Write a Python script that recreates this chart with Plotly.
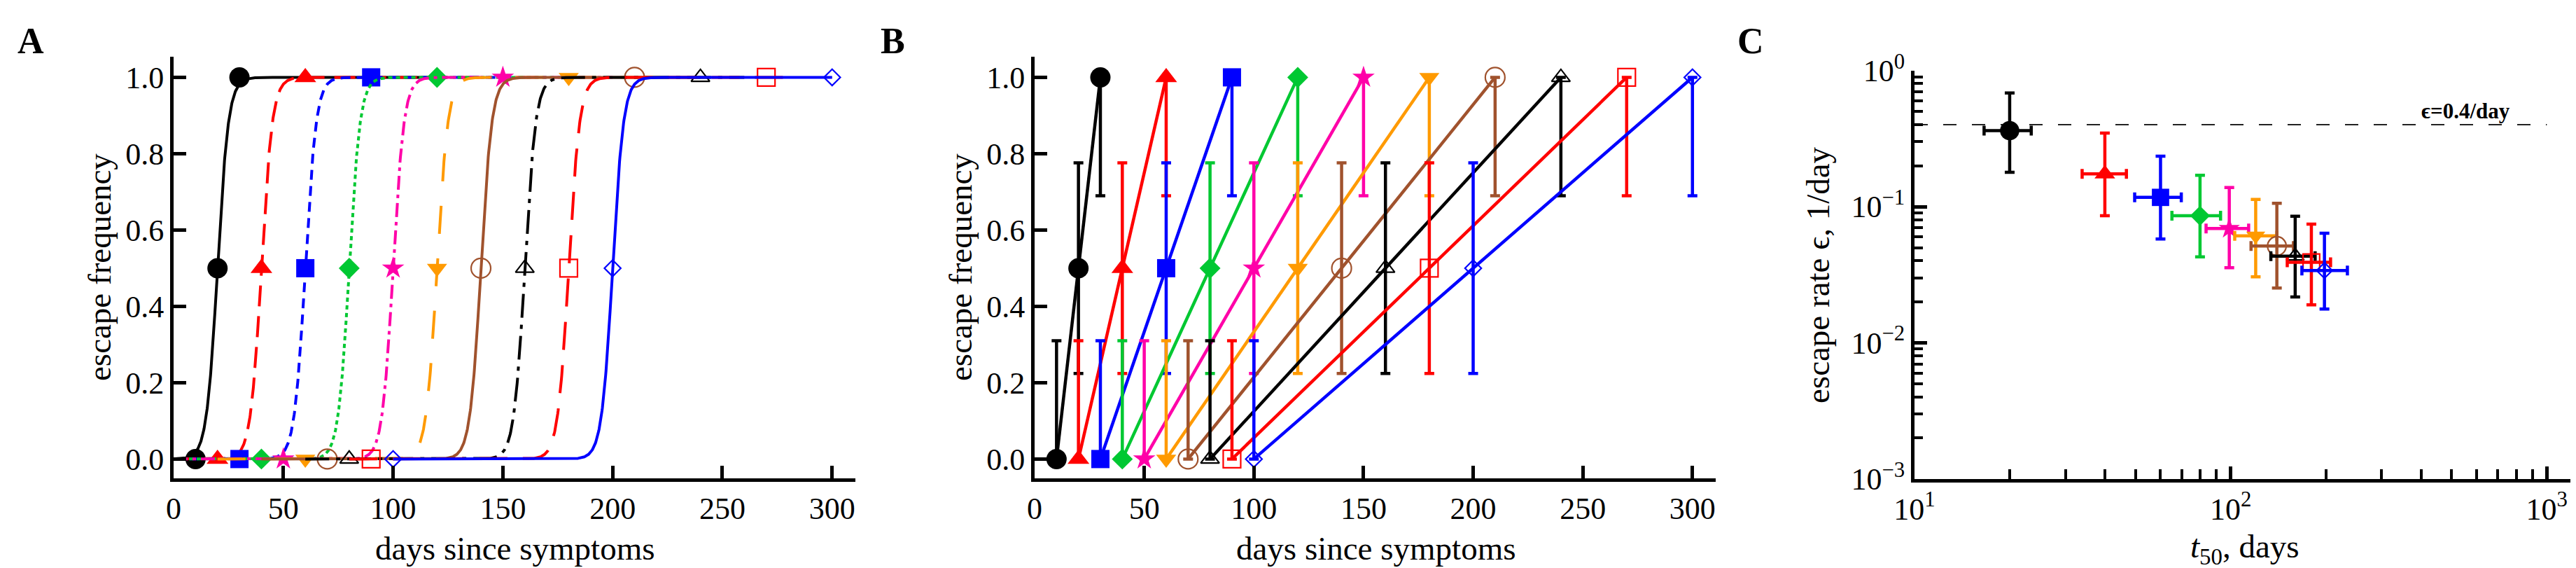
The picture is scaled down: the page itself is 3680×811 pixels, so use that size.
import numpy as np
import plotly.graph_objects as go

FONT = "Liberation Serif"

# ---- data ----
# panels A/B: time points (days since symptoms) of the 0, 0.5 and 1 frequency samples
t_zero = [10, 20, 30, 40, 50, 60, 70, 80, 90, 100]
t_half = [20, 40, 60, 80, 100, 120, 140, 160, 180, 200]
t_one = [30, 60, 90, 120, 150, 180, 210, 240, 270, 300]
freq_levels = [0.0, 0.5, 1.0]
eps_true = 0.4          # escape rate used for the curves in A (and the dashed line in C)
curve_halfwidth = 100   # curves in A are drawn over t50 +/- this many days

# panel B: confidence limits of the sampled frequencies
f_zero_hi = 0.31
f_half_lo = 0.224
f_half_hi = 0.776
f_one_lo = 0.69

# panel C: estimated t50 and escape rate with their intervals
t50_est = [20, 40, 60, 80, 99, 120, 140, 160, 180, 198]
t50_lo = [16.6, 33.9, 49.7, 65.2, 83.6, 103, 116, 134, 151, 168]
t50_hi = [23.4, 46.8, 69.8, 92.9, 114, 140, 158, 185, 207, 234]
eps_est = [0.362, 0.174, 0.117, 0.0857, 0.0691, 0.0611, 0.0514, 0.0433, 0.039, 0.034]
eps_lo = [0.179, 0.0857, 0.0578, 0.0428, 0.0356, 0.0305, 0.0253, 0.0217, 0.019, 0.0177]
eps_hi = [0.683, 0.347, 0.235, 0.170, 0.138, 0.113, 0.106, 0.0851, 0.0744, 0.0638]
eps_line_t = [10, 1000]

# ---- styles ----
colors = ["black", "#ff0000", "#0000ff", "#00c832", "#ff00a8",
          "#ff9a00", "#a0522d", "black", "#ff0000", "#0000ff"]
symbols = ["circle", "triangle-up", "square", "diamond", "star",
           "triangle-down", "circle-open", "triangle-up-open", "square-open", "diamond-open"]
msizes = [29, 27, 26, 23, 24, 25, 28, 23, 25, 18]
dashes = ["solid", "30px,14px", "14px,9px", "6px,5px", "20px,7px,5px,7px",
          "40px,35px", "solid", "34px,10px,6px,10px", "40px,22px", "solid"]

fig = go.Figure()


def marker(i, scale=1.0):
    return dict(symbol=symbols[i], size=msizes[i] * scale, color=colors[i],
                line=dict(color=colors[i], width=2.2 if "open" in symbols[i] else 0))


# ---- panel A: logistic curves with the sample markers ----
for i in range(10):
    lo = max(0, t_half[i] - curve_halfwidth)
    hi = min(300, t_half[i] + curve_halfwidth)
    t = np.linspace(lo, hi, 1201)
    f = 1.0 / (1.0 + np.exp(-eps_true * (t - t_half[i])))
    fig.add_trace(go.Scatter(x=t, y=f, mode="lines", xaxis="x", yaxis="y",
                             line=dict(color=colors[i], width=4, dash=dashes[i])))
    fig.add_trace(go.Scatter(x=[t_zero[i], t_half[i], t_one[i]], y=freq_levels,
                             mode="markers", xaxis="x", yaxis="y", marker=marker(i)))

# ---- panel B: piecewise linear with error bars ----
for i in range(10):
    up = [f_zero_hi - freq_levels[0], f_half_hi - freq_levels[1], 0]
    dn = [0, freq_levels[1] - f_half_lo, freq_levels[2] - f_one_lo]
    fig.add_trace(go.Scatter(
        x=[t_zero[i], t_half[i], t_one[i]], y=freq_levels, mode="lines+markers",
        xaxis="x2", yaxis="y2",
        line=dict(color=colors[i], width=4.5), marker=marker(i),
        error_y=dict(type="data", symmetric=False, array=up, arrayminus=dn,
                     color=colors[i], thickness=4.5, width=7)))

# ---- panel C: estimates on log-log axes ----
fig.add_trace(go.Scatter(x=eps_line_t, y=[eps_true, eps_true], mode="lines",
                         xaxis="x3", yaxis="y3",
                         line=dict(color="#222222", width=2, dash="19px,22px")))
for i in range(10):
    fig.add_trace(go.Scatter(
        x=[t50_est[i]], y=[eps_est[i]], mode="markers", xaxis="x3", yaxis="y3",
        marker=marker(i, 0.95),
        error_x=dict(type="data", symmetric=False, array=[t50_hi[i] - t50_est[i]],
                     arrayminus=[t50_est[i] - t50_lo[i]], color=colors[i],
                     thickness=4.5, width=7),
        error_y=dict(type="data", symmetric=False, array=[eps_hi[i] - eps_est[i]],
                     arrayminus=[eps_est[i] - eps_lo[i]], color=colors[i],
                     thickness=4.5, width=7)))

W, H = 3680, 811
tickfont = dict(family=FONT, size=44, color="black")
axis_common = dict(showline=True, linewidth=5, linecolor="black", ticks="inside",
                   ticklen=18, tickwidth=5, tickcolor="black", showgrid=False,
                   zeroline=False, tickfont=tickfont, mirror=False, automargin=False)

xt_lin = [0, 50, 100, 150, 200, 250, 300]
yt_lin = [0, 0.2, 0.4, 0.6, 0.8, 1.0]

dom_y_lin = [1 - 675 / H, 1 - 73 / H]
layout = dict(
    template="none",
    width=W, height=H, margin=dict(l=0, r=0, t=0, b=0, pad=0),
    paper_bgcolor="white", plot_bgcolor="white", showlegend=False, hovermode=False,
    xaxis=dict(axis_common, domain=[240 / W, 1214 / W], range=[0, 310.6],
               tickvals=xt_lin, anchor="y"),
    yaxis=dict(axis_common, domain=dom_y_lin, range=[-0.0506, 1.054],
               tickvals=yt_lin, tickformat=".1f", anchor="x"),
    xaxis2=dict(axis_common, domain=[1470 / W, 2443 / W], range=[0, 310.6],
                tickvals=xt_lin, anchor="y2"),
    yaxis2=dict(axis_common, domain=dom_y_lin, range=[-0.0506, 1.054],
                tickvals=yt_lin, tickformat=".1f", anchor="x2"),
    xaxis3=dict(axis_common, type="log", domain=[2727 / W, 1.0], range=[1, 3.11],
                tickvals=[10, 100, 1000],
                ticktext=["10<sup>1</sup>", "10<sup>2</sup>", "10<sup>3</sup>"],
                minor=dict(dtick="D1", ticks="inside", ticklen=14, tickwidth=4,
                           tickcolor="black"),
                anchor="y3"),
    yaxis3=dict(axis_common, type="log", domain=[1 - 676 / H, 1 - 92.6 / H], range=[-3, 0],
                tickvals=[0.001, 0.01, 0.1, 1],
                ticktext=["10<sup>\u22123</sup>", "10<sup>\u22122</sup>",
                          "10<sup>\u22121</sup>", "10<sup>0</sup>"],
                minor=dict(dtick="D1", ticks="inside", ticklen=12, tickwidth=4,
                           tickcolor="black"),
                anchor="x3"),
)
fig.update_layout(**layout)

title_font = dict(family=FONT, size=47, color="black")
annots = [
    # panel letters
    dict(text="<b>A</b>", x=36 / W, y=1 - 50 / H, font=dict(family=FONT, size=52)),
    dict(text="<b>B</b>", x=1267 / W, y=1 - 50 / H, font=dict(family=FONT, size=52)),
    dict(text="<b>C</b>", x=2493 / W, y=1 - 50 / H, font=dict(family=FONT, size=52)),
    # axis titles
    dict(text="days since symptoms", x=727 / W, y=1 - 775 / H, font=title_font),
    dict(text="days since symptoms", x=1957 / W, y=1 - 775 / H, font=title_font),
    dict(text="<i>t</i><sub>50</sub>, days", x=3199 / W, y=1 - 775 / H, font=title_font),
    dict(text="escape frequency", x=134 / W, y=1 - 374 / H, textangle=-90, font=title_font),
    dict(text="escape frequency", x=1364 / W, y=1 - 374 / H, textangle=-90, font=title_font),
    dict(text="escape rate \u03f5, 1/day", x=2589 / W, y=1 - 385 / H, textangle=-90,
         font=title_font),
    # dashed line label
    dict(text="<b>\u03f5=0.4/day</b>", x=3514 / W, y=1 - 150 / H,
         font=dict(family=FONT, size=31)),
]
for a in annots:
    a["font"] = dict(a["font"], color="black")
    fig.add_annotation(xref="paper", yref="paper", showarrow=False,
                       xanchor="center", yanchor="middle", **a)

fig.write_html("out.html")
